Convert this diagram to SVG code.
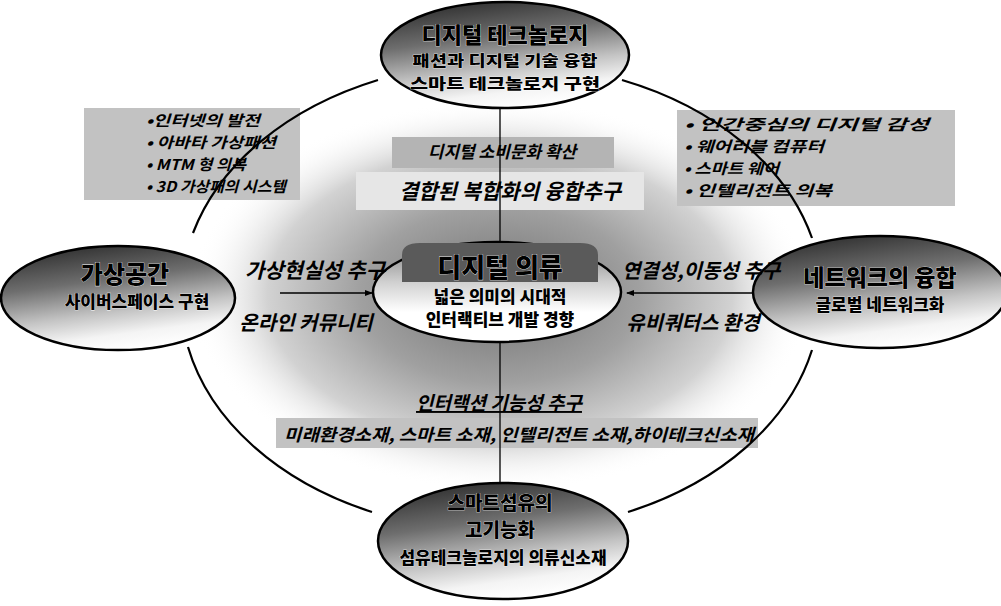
<svg xmlns="http://www.w3.org/2000/svg" width="1001" height="606" viewBox="0 0 1001 606">
<defs>
<linearGradient id="nodeGrad" x1="0.25" y1="0" x2="0.55" y2="1">
<stop offset="0" stop-color="#2e2e2e"/>
<stop offset="0.35" stop-color="#6e6e6e"/>
<stop offset="0.65" stop-color="#c4c4c4"/>
<stop offset="0.85" stop-color="#f4f4f4"/>
<stop offset="1" stop-color="#ffffff"/>
</linearGradient>
<linearGradient id="centerGrad" x1="0" y1="0" x2="0" y2="1">
<stop offset="0" stop-color="#7a7a7a"/>
<stop offset="0.4" stop-color="#d0d0d0"/>
<stop offset="0.7" stop-color="#ffffff"/>
<stop offset="1" stop-color="#ffffff"/>
</linearGradient>
<radialGradient id="halo" cx="0.5" cy="0.5" r="0.5">
<stop offset="0" stop-color="#707070"/>
<stop offset="0.45" stop-color="#a0a0a0"/>
<stop offset="0.75" stop-color="#d2d2d2"/>
<stop offset="1" stop-color="#ffffff" stop-opacity="0"/>
</radialGradient>
<marker id="arrowR" markerWidth="8" markerHeight="8" refX="7" refY="4" orient="auto" markerUnits="userSpaceOnUse">
<path d="M0,1 L8,4 L0,7 Z" fill="#000"/>
</marker>
<style>
.node{fill:url(#nodeGrad);stroke:#000;stroke-width:2.5}
.conn{fill:none;stroke:#000;stroke-width:2.2}
.vline{fill:none;stroke:#000;stroke-width:1.3}
.box{fill:#c2c2c2}
.t{font-family:"Noto Sans CJK KR","Noto Sans",sans-serif;font-weight:900;fill:#000;text-anchor:middle;stroke:#fff;stroke-width:0.6;paint-order:stroke}
.lab{font-family:"Noto Sans CJK KR","Noto Sans",sans-serif;font-weight:700;font-style:italic;fill:#000;text-anchor:middle}
.bul{font-family:"Noto Sans CJK KR","Noto Sans",sans-serif;font-weight:700;font-style:italic;fill:#000;font-size:15px}
</style>
</defs>
<rect width="1001" height="606" fill="#fff"/>
<ellipse cx="500" cy="295" rx="310" ry="195" fill="url(#halo)"/>
<rect class="box" x="84" y="108" width="216" height="92"/>
<rect class="box" x="677" y="110" width="278" height="96"/>
<rect x="392" y="137" width="222" height="31" fill="#b4b4b4"/>
<rect x="356" y="172" width="288" height="38" fill="#e6e6e6"/>
<rect class="box" x="276" y="418" width="482" height="30"/>
<g id="connectors">
<path class="conn" d="M378,80 A319,234 0 0 0 193,233"/>
<path class="conn" d="M622,80 A319,234 0 0 1 812,238"/>
<path class="conn" d="M188,347 A319,234 0 0 0 372,512"/>
<path class="conn" d="M812,350 A319,234 0 0 1 628,512"/>
<line class="vline" x1="500" y1="108" x2="500" y2="243"/>
<line class="vline" x1="500" y1="340" x2="500" y2="484"/>
<line x1="280" y1="293" x2="372" y2="293" stroke="#000" stroke-width="1.5" marker-end="url(#arrowR)"/>
<line x1="752" y1="293" x2="627" y2="293" stroke="#000" stroke-width="1.5" marker-end="url(#arrowR)"/>
</g>
<g id="node-top">
<ellipse class="node" cx="505" cy="55" rx="124" ry="53"/>
<text class="t" x="505" y="43" font-size="22">디지털 테크놀로지</text>
<text class="t" x="505" y="66" font-size="15" textLength="185" lengthAdjust="spacingAndGlyphs">패션과 디지털 기술 융합</text>
<text class="t" x="505" y="89" font-size="15" textLength="190" lengthAdjust="spacingAndGlyphs">스마트 테크놀로지 구현</text>
</g>
<g id="node-left">
<ellipse class="node" cx="118" cy="298" rx="117" ry="52"/>
<text class="t" x="125" y="283" font-size="24">가상공간</text>
<text class="t" x="137" y="308" font-size="17">사이버스페이스 구현</text>
</g>
<g id="node-right">
<ellipse class="node" cx="880" cy="292" rx="127" ry="56"/>
<text class="t" x="880" y="286" font-size="23">네트워크의 융합</text>
<text class="t" x="880" y="311" font-size="17">글로벌 네트워크화</text>
</g>
<g id="node-bottom">
<ellipse class="node" cx="503" cy="541" rx="125" ry="58"/>
<text class="t" x="500" y="510" font-size="19">스마트섬유의</text>
<text class="t" x="500" y="537" font-size="19">고기능화</text>
<text class="t" x="503" y="564" font-size="17">섬유테크놀로지의 의류신소재</text>
</g>
<g id="node-center">
<ellipse cx="497" cy="292" rx="124" ry="50" fill="url(#centerGrad)" stroke="#000" stroke-width="2.5"/>
<path d="M402,282 L402,255 Q402,243 420,243 L580,243 Q598,243 598,255 L598,282 Z" fill="#5a5a5a"/>
<text class="t" x="500" y="277" font-size="26">디지털 의류</text>
<text class="t" x="500" y="303" font-size="17">넓은 의미의 시대적</text>
<text class="t" x="500" y="326" font-size="17">인터랙티브 개발 경향</text>
</g>
<g id="labels">
<text class="lab" x="315" y="278" font-size="21">가상현실성 추구</text>
<text class="lab" x="306" y="330" font-size="20">온라인 커뮤니티</text>
<text class="lab" x="701" y="278" font-size="20">연결성,이동성 추구</text>
<text class="lab" x="693" y="330" font-size="20">유비쿼터스 환경</text>
<text class="lab" x="502" y="158" font-size="17">디지털 소비문화 확산</text>
<text class="lab" x="510" y="199" font-size="21">결합된  복합화의 융합추구</text>
<text class="lab" x="499" y="410" font-size="19" text-decoration="underline">인터랙션 기능성 추구</text>
<text class="lab" x="519" y="441" font-size="17" textLength="470" lengthAdjust="spacingAndGlyphs">미래환경소재, 스마트 소재, 인텔리전트 소재,하이테크신소재</text>
</g>
<g id="bullets-left">
<text class="bul" x="146" y="126" textLength="114" lengthAdjust="spacingAndGlyphs">•인터넷의 발전</text>
<text class="bul" x="146" y="148" textLength="130" lengthAdjust="spacingAndGlyphs">• 아바타 가상패션</text>
<text class="bul" x="146" y="170" textLength="100" lengthAdjust="spacingAndGlyphs">• MTM 형 의복</text>
<text class="bul" x="146" y="192" textLength="140" lengthAdjust="spacingAndGlyphs">• 3D 가상패의 시스템</text>
</g>
<g id="bullets-right">
<text class="bul" x="684" y="130" textLength="245" lengthAdjust="spacingAndGlyphs">•  인간중심의 디지털 감성</text>
<text class="bul" x="684" y="152" textLength="140" lengthAdjust="spacingAndGlyphs">• 웨어러블 컴퓨터</text>
<text class="bul" x="684" y="174" textLength="95" lengthAdjust="spacingAndGlyphs">• 스마트 웨어</text>
<text class="bul" x="684" y="196" textLength="148" lengthAdjust="spacingAndGlyphs">• 인텔리전트 의복</text>
</g>
</svg>
